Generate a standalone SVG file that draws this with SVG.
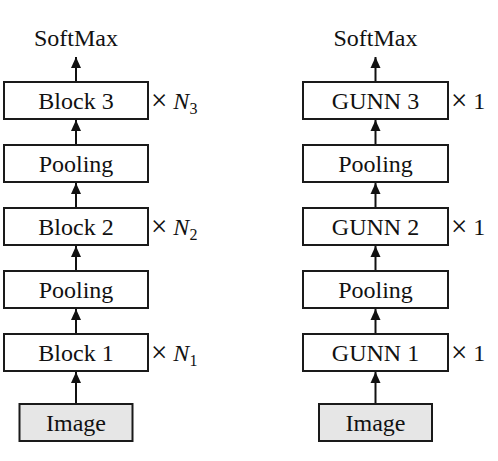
<svg xmlns="http://www.w3.org/2000/svg" width="498" height="461" viewBox="0 0 498 461">
<style>
.box{fill:#fff;stroke:#1a1a1a;stroke-width:2}
.img{fill:#e6e6e6;stroke:#1a1a1a;stroke-width:2}
.t{font-family:"Liberation Serif","Times New Roman",serif;font-size:24px;fill:#111;text-anchor:middle}
.m{font-family:"Liberation Serif","Times New Roman",serif;font-size:24px;fill:#111}
.x{font-size:29px}
.c{stroke:#111;stroke-width:2;fill:none;marker-end:url(#ah)}
</style>
<defs>
<marker id="ah" markerUnits="userSpaceOnUse" markerWidth="12" markerHeight="12" viewBox="0 0 12 12" refX="11" refY="6" orient="auto">
<path d="M0,1 L11,6 L0,11 Z" fill="#111"/>
</marker>
</defs>
<g id="connectors">
<line class="c" x1="76" y1="404" x2="76" y2="372"/>
<line class="c" x1="76" y1="334" x2="76" y2="309"/>
<line class="c" x1="76" y1="271" x2="76" y2="246"/>
<line class="c" x1="76" y1="208" x2="76" y2="183"/>
<line class="c" x1="76" y1="145" x2="76" y2="120"/>
<line class="c" x1="76" y1="82" x2="76" y2="57"/>
<line class="c" x1="375.5" y1="404" x2="375.5" y2="372"/>
<line class="c" x1="375.5" y1="334" x2="375.5" y2="309"/>
<line class="c" x1="375.5" y1="271" x2="375.5" y2="246"/>
<line class="c" x1="375.5" y1="208" x2="375.5" y2="183"/>
<line class="c" x1="375.5" y1="145" x2="375.5" y2="120"/>
<line class="c" x1="375.5" y1="82" x2="375.5" y2="57"/>
</g>
<g id="softmax-left"><text class="t" x="76" y="46">SoftMax</text></g>
<g id="block3"><rect class="box" x="4" y="82" width="144" height="37"/><text class="t" x="76" y="109">Block 3</text>
<text class="m" x="151" y="110"><tspan class="x">×</tspan> <tspan font-style="italic" dy="-1">N</tspan><tspan font-size="16" dy="5">3</tspan></text></g>
<g id="pool2-left"><rect class="box" x="4" y="145" width="144" height="37"/><text class="t" x="76" y="172">Pooling</text></g>
<g id="block2"><rect class="box" x="4" y="208" width="144" height="37"/><text class="t" x="76" y="235">Block 2</text>
<text class="m" x="151" y="236"><tspan class="x">×</tspan> <tspan font-style="italic" dy="-1">N</tspan><tspan font-size="16" dy="5">2</tspan></text></g>
<g id="pool1-left"><rect class="box" x="4" y="271" width="144" height="37"/><text class="t" x="76" y="298">Pooling</text></g>
<g id="block1"><rect class="box" x="4" y="334" width="144" height="37"/><text class="t" x="76" y="361">Block 1</text>
<text class="m" x="151" y="362"><tspan class="x">×</tspan> <tspan font-style="italic" dy="-1">N</tspan><tspan font-size="16" dy="5">1</tspan></text></g>
<g id="image-left"><rect class="img" x="19.5" y="404" width="113" height="37"/><text class="t" x="76" y="431">Image</text></g>

<g id="softmax-right"><text class="t" x="375.5" y="46">SoftMax</text></g>
<g id="gunn3"><rect class="box" x="303" y="82" width="145" height="37"/><text class="t" x="375.5" y="109">GUNN 3</text>
<text class="m" x="451" y="110"><tspan class="x">×</tspan> <tspan dy="-1">1</tspan></text></g>
<g id="pool2-right"><rect class="box" x="303" y="145" width="145" height="37"/><text class="t" x="375.5" y="172">Pooling</text></g>
<g id="gunn2"><rect class="box" x="303" y="208" width="145" height="37"/><text class="t" x="375.5" y="235">GUNN 2</text>
<text class="m" x="451" y="236"><tspan class="x">×</tspan> <tspan dy="-1">1</tspan></text></g>
<g id="pool1-right"><rect class="box" x="303" y="271" width="145" height="37"/><text class="t" x="375.5" y="298">Pooling</text></g>
<g id="gunn1"><rect class="box" x="303" y="334" width="145" height="37"/><text class="t" x="375.5" y="361">GUNN 1</text>
<text class="m" x="451" y="362"><tspan class="x">×</tspan> <tspan dy="-1">1</tspan></text></g>
<g id="image-right"><rect class="img" x="319" y="404" width="113" height="37"/><text class="t" x="375.5" y="431">Image</text></g>
</svg>
